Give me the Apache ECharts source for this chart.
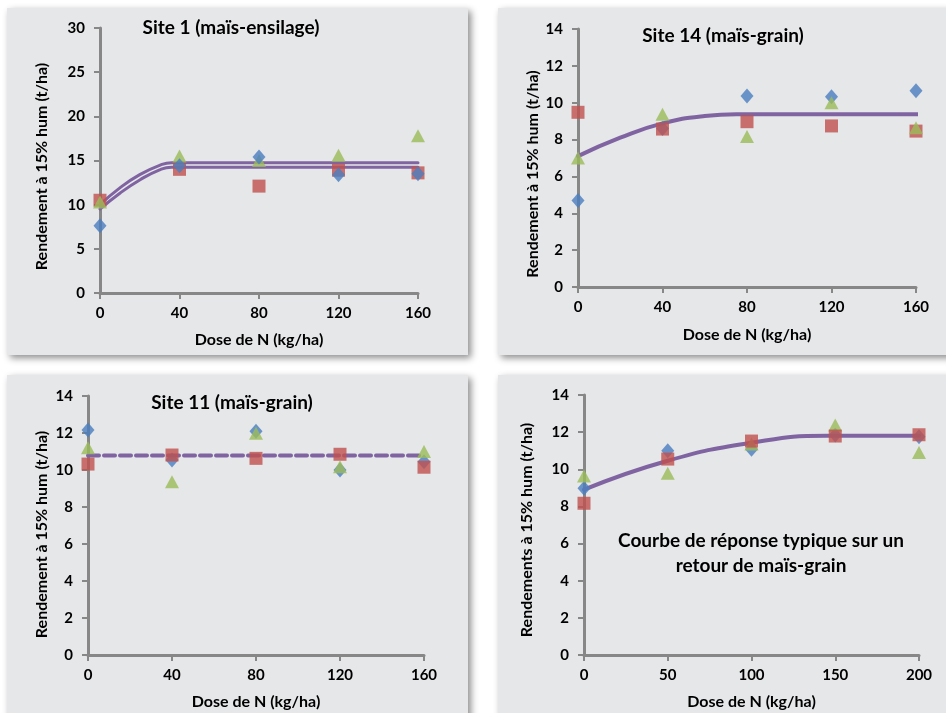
<!DOCTYPE html>
<html><head><meta charset="utf-8">
<script src="https://cdn.jsdelivr.net/npm/echarts@6/dist/echarts.min.js"></script>
<style>html,body{margin:0;padding:0;background:#fff}#c{width:946px;height:713px}</style>
</head><body><div id="c"></div><script>
// ---- Data ----
const doses160 = [0, 40, 80, 120, 160];
const doses200 = [0, 50, 100, 150, 200];

// Site 1 (maïs-ensilage)
const s1Diamond = [7.6, 14.4, 15.4, 13.4, 13.5];
const s1Square = [10.5, 14.0, 12.1, 13.9, 13.6];
const s1Triangle = [10.3, 15.5, 15.0, 15.6, 17.8];
const s1UpperX = [0, 10, 20, 30, 36, 160];
const s1UpperY = [10.0, 11.9, 13.4, 14.45, 14.75, 14.75];
const s1LowerX = [0, 10, 20, 30, 36, 160];
const s1LowerY = [9.5, 11.3, 12.8, 13.95, 14.25, 14.25];

// Site 14 (maïs-grain)
const s14Diamond = [4.7, 8.6, 10.36, 10.33, 10.65];
const s14Square = [9.48, 8.57, 8.97, 8.74, 8.46];
const s14Triangle = [7.0, 9.37, 8.16, 10.0, 8.64];
const s14CurveX = [0, 20, 40, 60, 75, 171];
const s14CurveY = [7.1, 8.1, 8.88, 9.28, 9.37, 9.37];

// Site 11 (maïs-grain)
const s11Diamond = [12.16, 10.54, 12.1, 10.0, 10.45];
const s11Square = [10.32, 10.81, 10.63, 10.85, 10.15];
const s11Triangle = [11.2, 9.37, 11.98, 10.18, 11.0];
const s11LineX = [0, 160];
const s11LineY = [10.78, 10.78];

// Courbe typique
const tDiamond = [8.98, 11.0, 11.08, 11.85, 11.75];
const tSquare = [8.17, 10.55, 11.52, 11.79, 11.86];
const tTriangle = [9.64, 9.78, 11.36, 12.38, 10.9];
const tCurveX = [0, 50, 100, 145, 200];
const tCurveY = [8.9, 10.46, 11.43, 11.8, 11.8];

const yTitle = 'Rendement à 15% hum (t/ha)';
const yTitle4 = 'Rendements à 15% hum (t/ha)';
const xTitle = 'Dose de N (kg/ha)';
const titles = ['Site 1 (maïs-ensilage)', 'Site 14 (maïs-grain)', 'Site 11 (maïs-grain)'];
const note = 'Courbe de réponse typique sur un\nretour de maïs-grain';

// ---- Styles ----
const FONT = 'Lato';
const BLUE = '#4A7EBF', RED = '#C0504D', GREEN = '#9BBB59', PURPLE = '#8064A2';
const AX = '#878787';
const pair = (xs, ys) => xs.map((x, i) => [x, ys[i]]);

function xAxis(gi, max, interval, gap) {
  return {
    type: 'value', gridIndex: gi, min: 0, max: max, interval: interval,
    name: xTitle, nameLocation: 'middle', nameGap: gap,
    nameTextStyle: {fontFamily: FONT, fontWeight: 'bold', fontSize: 16, color: '#000'},
    axisLine: {lineStyle: {color: AX, width: 3}},
    axisTick: {show: true, length: 6, lineStyle: {color: AX, width: 2}},
    axisLabel: {fontFamily: FONT, fontWeight: 'bold', fontSize: 15, color: '#000', margin: 13},
    splitLine: {show: false}
  };
}
function yAxis(gi, max, interval, name, gap, shift) {
  return {
    type: 'value', gridIndex: gi, min: 0, max: max, interval: interval,
    name: name, nameLocation: 'middle', nameGap: gap,
    nameTextStyle: {fontFamily: FONT, fontWeight: 'bold', fontSize: 16, color: '#000', padding: [0, 2 * shift, 0, 0]},
    axisLine: {show: true, lineStyle: {color: AX, width: 3}},
    axisTick: {show: true, length: 6, lineStyle: {color: AX, width: 2}},
    axisLabel: {fontFamily: FONT, fontWeight: 'bold', fontSize: 15, color: '#000', margin: 15},
    splitLine: {show: false}
  };
}
function sc(gi, xs, ys, kind, z) {
  const m = {
    d: {symbol: 'diamond', symbolSize: [13, 15], color: BLUE},
    s: {symbol: 'rect', symbolSize: 13, color: RED},
    t: {symbol: 'triangle', symbolSize: [14, 13], color: GREEN}
  }[kind];
  return {
    type: 'scatter', xAxisIndex: gi, yAxisIndex: gi, symbol: m.symbol, symbolSize: m.symbolSize,
    itemStyle: {color: m.color}, data: pair(xs, ys), z: z, silent: true
  };
}
function ln(gi, xs, ys, width, dashed) {
  return {
    type: 'line', xAxisIndex: gi, yAxisIndex: gi, data: pair(xs, ys), showSymbol: false,
    smooth: dashed ? false : 0.5, clip: false, z: 1, silent: true,
    lineStyle: {color: PURPLE, width: width, type: dashed ? [11, 5] : 'solid', cap: 'round', join: 'round'}
  };
}

const panelStyle = {fill: '#E6E7E9', shadowBlur: 7, shadowOffsetX: 3, shadowOffsetY: 3, shadowColor: 'rgba(0,0,0,0.45)'};
function panel(x, y, w, h) {
  return {type: 'rect', shape: {x: x, y: y, width: w, height: h}, style: panelStyle, z: -10, silent: true};
}
function txt(x, y, t, size) {
  return {type: 'text', x: x, y: y, z: 10, silent: true,
    style: {text: t, fontFamily: FONT, fontWeight: 'bold', fontSize: size, fill: '#000', align: 'center', verticalAlign: 'middle', lineHeight: 25}};
}

const chart = echarts.init(document.getElementById('c'));
chart.setOption({
  animation: false,
  backgroundColor: '#ffffff',
  graphic: [
    panel(7, 8, 461, 347),
    panel(498, 8, 460, 347),
    panel(7, 375, 461, 350),
    panel(498, 375, 460, 350),
    txt(231, 28, titles[0], 19),
    txt(723, 36, titles[1], 19),
    txt(232, 403, titles[2], 19),
    txt(761, 553, note, 19)
  ],
  grid: [
    {left: 100, top: 28, width: 318, height: 265},
    {left: 578, top: 29, width: 338, height: 258},
    {left: 88, top: 396, width: 336, height: 259},
    {left: 584, top: 395, width: 335, height: 260}
  ],
  xAxis: [
    xAxis(0, 160, 40, 39),
    xAxis(1, 160, 40, 40),
    xAxis(2, 160, 40, 39),
    xAxis(3, 200, 50, 39)
  ],
  yAxis: [
    yAxis(0, 30, 5, yTitle, 50, 6),
    yAxis(1, 14, 2, yTitle, 37, 16),
    yAxis(2, 14, 2, yTitle, 38, 9),
    yAxis(3, 14, 2, yTitle4, 49, 5)
  ],
  series: [
    ln(0, s1UpperX, s1UpperY, 3, false),
    ln(0, s1LowerX, s1LowerY, 3, false),
    sc(0, doses160, s1Square, 's', 3),
    sc(0, doses160, s1Triangle, 't', 4),
    sc(0, doses160, s1Diamond, 'd', 5),

    ln(1, s14CurveX, s14CurveY, 4, false),
    sc(1, doses160, s14Diamond, 'd', 3),
    sc(1, doses160, s14Square, 's', 4),
    sc(1, doses160, s14Triangle, 't', 5),

    ln(2, s11LineX, s11LineY, 4, true),
    sc(2, doses160, s11Diamond, 'd', 3),
    sc(2, doses160, s11Square, 's', 4),
    sc(2, doses160, s11Triangle, 't', 5),

    ln(3, tCurveX, tCurveY, 4, false),
    sc(3, doses200, tDiamond, 'd', 3),
    sc(3, doses200, tTriangle, 't', 4),
    sc(3, doses200, tSquare, 's', 5)
  ]
});
</script></body></html>
